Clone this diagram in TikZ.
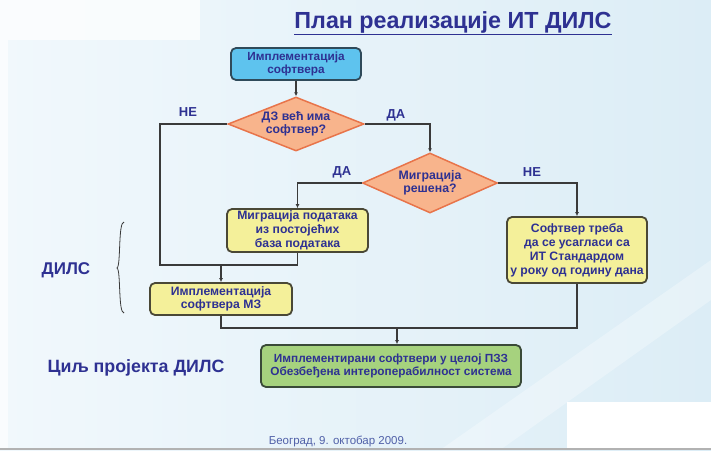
\documentclass[tikz,border=0pt]{standalone}
\usepackage{fontspec}
\setmainfont{Liberation Sans}
\usetikzlibrary{shapes.geometric,arrows.meta}
\definecolor{navy}{HTML}{2E3192}
\definecolor{bgA}{HTML}{F1F8FC}
\definecolor{bgB}{HTML}{DCEDF6}
\definecolor{linec}{HTML}{3A3A3A}
\definecolor{bluef}{HTML}{5EC3EE}
\definecolor{blued}{HTML}{2F4A5A}
\definecolor{orangef}{HTML}{F8B48C}
\definecolor{oranged}{HTML}{E8744A}
\definecolor{yellowf}{HTML}{F4F09A}
\definecolor{yellowd}{HTML}{4A4836}
\definecolor{greenf}{HTML}{A6D27E}
\definecolor{greend}{HTML}{3A4A38}
\definecolor{datec}{HTML}{5060A8}
\tikzset{
  boxbase/.style={rectangle, rounded corners=5pt, line width=1.8pt, align=center,
    text=navy, inner sep=1pt},
  startbox/.style={boxbase, fill=bluef, draw=blued, minimum width=130pt, minimum height=32pt,
    font=\bfseries\fontsize{11.8}{13.5}\selectfont},
  yellowbox/.style={boxbase, fill=yellowf, draw=yellowd,
    font=\bfseries\fontsize{12.2}{14}\selectfont},
  greenbox/.style={boxbase, fill=greenf, draw=greend, minimum width=260pt, minimum height=42pt,
    font=\bfseries\fontsize{11.8}{13}\selectfont},
  decision/.style={diamond, fill=orangef, draw=oranged, line width=1.5pt, inner sep=0pt},
  dtext/.style={align=center, text=navy, inner sep=0pt,
    font=\bfseries\fontsize{12.3}{13.5}\selectfont},
  conn/.style={draw=linec, line width=1.3pt},
  arr/.style={conn, -{Latex[length=4pt,width=4pt]}},
  lbl/.style={text=navy, font=\bfseries\fontsize{13}{15}\selectfont},
  biglbl/.style={text=navy, font=\bfseries\fontsize{17}{20}\selectfont}
}
\begin{document}
\begin{tikzpicture}[x=1pt,y=-1pt]
% background
\shade[left color=bgA, right color=bgB] (0,0) rectangle (711,450);
\fill[white, opacity=0.7] (8,0) rectangle (200,40);
\fill[white, opacity=0.7] (0,0) rectangle (8,448);
\fill[white, opacity=0.3] (440,450) -- (711,260) -- (711,300) -- (500,450) -- cycle;
\fill[white] (567,402) rectangle (711,448);
\fill[black!30] (0,448) rectangle (711,450);
\useasboundingbox (0,0) rectangle (711,450);

% title
\node[text=navy, font=\bfseries\fontsize{23.3}{27}\selectfont] (title) at (453,23)
  {\underline{План реализације ИТ ДИЛС}};

% nodes
\node[startbox] (start) at (296,64) {Имплементација\\софтвера};
\node[decision, minimum width=136pt, minimum height=54pt] (d1) at (296,124) {};
\node[dtext] (d1t) at (d1.center) {ДЗ већ има\\софтвер?};
\node[decision, minimum width=135pt, minimum height=60pt] (d2) at (430,183) {};
\node[dtext] (d2t) at (d2.center) {Миграција\\решена?};
\node[yellowbox, minimum width=141pt, minimum height=43pt] (mig) at (297.5,230.5)
  {Миграција података\\из постојећих\\база података};
\node[yellowbox, minimum width=140pt, minimum height=66pt] (sw) at (577,250)
  {Софтвер треба\\да се усагласи са\\ИТ Стандардом\\у року од годину дана};
\node[yellowbox, minimum width=142pt, minimum height=32pt,
  font=\bfseries\fontsize{12.2}{13}\selectfont] (mz) at (221,299)
  {Имплементација\\софтвера МЗ};
\node[greenbox] (goal) at (391,366)
  {Имплементирани софтвери у целој ПЗЗ\\Обезбеђена интероперабилност система};

% side labels
\node[biglbl] (dils) at (66,270) {ДИЛС};
\node[biglbl, font=\bfseries\fontsize{17.8}{20}\selectfont] (cilj) at (136,368) {Циљ пројекта ДИЛС};
\node[text=datec, font=\fontsize{11.5}{13}\selectfont] (date) at (338,441)
  {Београд, 9. октобар 2009.};
\draw[linec, line width=0.8pt] (124,222) .. controls (118,222) and (121,266) .. (117,268)
  .. controls (121,270) and (118,313) .. (124,313);

% junctions
\coordinate (jl) at (160,265);
\coordinate (jb) at (397,328);

% connectors
\draw[arr] (start.south) -- (d1.north);
\draw[conn] (d1.west) -| (jl) -- (mig.south |- jl) -- (mig.south);
\draw[arr] (mz.north |- jl) -- (mz.north);
\draw[arr] (d1.east) -| (d2.north);
\draw[arr] (d2.west) -| (mig.north);
\draw[arr] (d2.east) -| (sw.north);
\draw[conn] (mz.south) -- (mz.south |- jb) -| (sw.south);
\draw[arr] (jb) -- (jb |- goal.north);

% branch labels
\node[lbl] (ne1) at (188,112) {НЕ};
\node[lbl] (da1) at (396,115) {ДА};
\node[lbl] (da2) at (342,172) {ДА};
\node[lbl] (ne2) at (532,172) {НЕ};
\end{tikzpicture}
\end{document}
